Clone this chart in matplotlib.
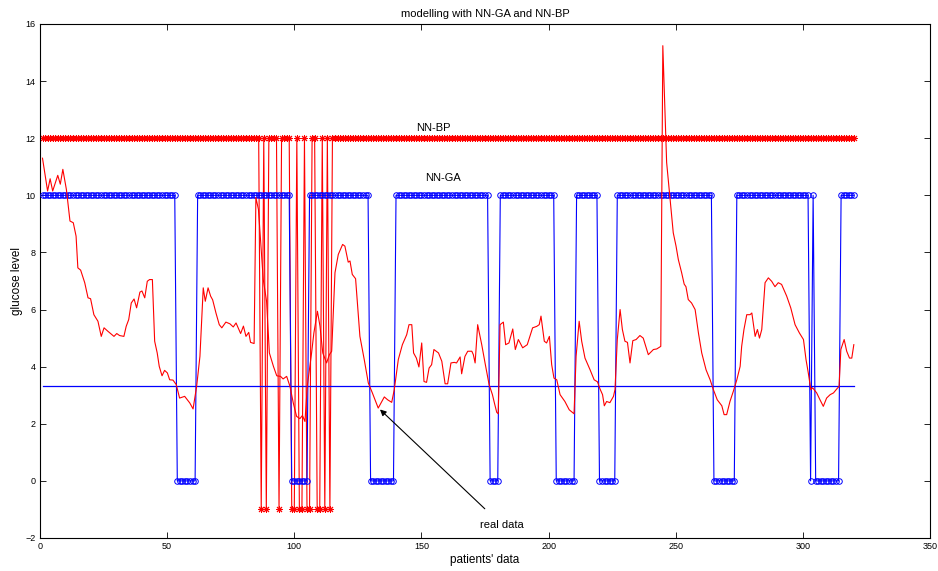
import numpy as np
import matplotlib
matplotlib.use("Agg")
import matplotlib.pyplot as plt

plt.rcParams['font.family'] = ['Liberation Sans', 'DejaVu Sans']

# ---------------- data ----------------
n_points = 320
threshold = 3.33

# NN-GA output: 10 everywhere except these index ranges (inclusive) where it is 0
ga_high = 10
ga_low = 0
ga_zero_ranges = [(54, 61), (99, 105), (130, 139), (177, 180), (203, 210),
                  (220, 226), (265, 273), (303, 303), (305, 314)]

# NN-BP output: 12 everywhere except these indices where it is -1
bp_high = 12
bp_low = -1
bp_low_idx = [87, 89, 94, 99, 100, 102, 103, 105, 106, 109, 110, 112, 114]

# real data (vertices)
real_x = [1, 3, 4, 5, 7, 8, 9, 10.4, 11.8, 13.1, 14.2, 14.9, 16, 17.6, 18.9, 19.9,
          21.2, 22.8, 24.1, 25.2, 26.7, 29.1, 30.2, 31.3, 33, 33.9, 34.9, 35.9, 37,
          38, 39.3, 40.1, 41.2, 42.2, 43.1, 44.2, 45.1, 46.1, 46.9, 48, 49, 50.1, 51,
          52.3, 53.6, 54.9, 56.9, 58.9, 60.2, 61.6, 62.9, 64.2, 65, 66.1, 67.1, 67.9,
          69.2, 70.5, 71.5, 73.1, 74.7, 76, 77.1, 78.9, 80, 81, 82.1, 82.8, 84.2, 84.9,
          85.9, 87.8, 89.1, 90.2, 91.8, 93.1, 94.6, 95.6, 97, 98.3, 99.6, 100.9, 102.2,
          103.2, 104.2, 105.1, 106.8, 107.7, 109.1, 110.1, 111.2, 112.7, 113.8, 114.7,
          116, 117.3, 119, 119.9, 121.2, 121.9, 122.8, 124.1, 125.8, 127.5, 129.1,
          130.7, 133, 135.4, 136.7, 138.3, 139.3, 140.9, 142.5, 144.2, 145.1, 146.2,
          146.9, 148, 149, 150.1, 151, 152, 153, 154, 154.9, 156.7, 158, 159.3, 160.3,
          161.6, 162.9, 163.8, 165.2, 165.8, 167.1, 168.2, 169.8, 170.4, 171.1, 172.1,
          173.7, 175, 176.6, 177.9, 178.7, 179.6, 180.2, 180.9, 182.2, 183.1, 184.4,
          185.9, 186.9, 188.1, 189.8, 191.6, 193.7, 195.3, 196.3, 197, 198.3, 199.2,
          200.3, 201.2, 202.1, 203.2, 204.5, 206.4, 208.1, 210, 210.8, 212, 213, 214.3,
          216.3, 217.9, 219.2, 220.2, 221.2, 221.9, 222.8, 224.1, 225.5, 226.1, 227,
          228.1, 229, 230, 231, 232, 233.1, 234.4, 235.9, 237.2, 239.2, 241.2, 242.5,
          244.1, 244.9, 246.4, 247.5, 248.4, 249, 250.1, 251, 252.3, 253.3, 254, 254.9,
          256.2, 257.6, 258.9, 260.2, 261.9, 263.5, 264.8, 266.3, 268.1, 269, 270,
          271.3, 272.6, 274, 275.3, 275.9, 276.8, 277.9, 279.2, 279.9, 281.2, 282.1,
          282.9, 283.8, 285.1, 286.4, 287.7, 289, 290.3, 291.6, 293.6, 295.2, 296.9,
          298.6, 300.2, 301.2, 302.1, 303.1, 303.8, 305.4, 306.7, 308, 309.3, 310.7,
          312, 313.3, 314.2, 314.9, 316.2, 317.2, 318.3, 319.2, 320]
real_y = [11.3, 10.15, 10.58, 10.15, 10.7, 10.39, 10.91, 10.2, 9.1, 9.04, 8.57, 7.46,
          7.38, 6.94, 6.41, 6.38, 5.82, 5.59, 5.06, 5.36, 5.24, 5.06, 5.16, 5.09, 5.06,
          5.41, 5.65, 6.23, 6.37, 6.06, 6.61, 6.65, 6.41, 6.99, 7.05, 7.05, 4.89, 4.48,
          4.01, 3.68, 3.87, 3.78, 3.54, 3.53, 3.37, 2.9, 2.96, 2.73, 2.52, 3.31, 4.36,
          6.76, 6.29, 6.76, 6.47, 6.34, 5.88, 5.47, 5.36, 5.56, 5.5, 5.39, 5.53, 5.16,
          5.42, 5.06, 5.2, 4.85, 4.81, 9.92, 9.51, 7.05, 6.29, 4.48, 4.01, 3.68, 3.66,
          3.57, 3.66, 3.31, 2.73, 2.26, 2.18, 2.29, 2.08, 3.31, 4.48, 5.18, 5.94, 5.42,
          4.48, 4.13, 4.42, 4.54, 7.29, 7.93, 8.28, 8.22, 7.66, 7.7, 7.23, 7.08, 5.06,
          4.25, 3.43, 3.08, 2.55, 2.94, 2.84, 2.75, 3.19, 4.25, 4.77, 5.12, 5.47, 5.47,
          4.48, 4.3, 3.99, 4.83, 3.48, 3.45, 3.95, 4.07, 4.6, 4.48, 4.19, 3.4, 3.4,
          4.13, 4.15, 4.13, 4.34, 3.75, 4.36, 4.54, 4.54, 4.42, 4.13, 5.47, 4.77, 4.13,
          3.37, 3.02, 2.72, 2.4, 2.35, 5.47, 5.56, 4.77, 4.83, 5.32, 4.6, 4.95, 4.66,
          4.77, 5.36, 5.41, 5.47, 5.77, 4.89, 4.83, 5.06, 4.07, 3.6, 3.54, 3.02, 2.78,
          2.49, 2.35, 4.36, 5.59, 4.89, 4.3, 3.89, 3.54, 3.47, 3.22, 3.02, 2.63, 2.78,
          2.74, 2.96, 3.2, 4.95, 6.0, 5.3, 4.89, 4.85, 4.13, 4.91, 4.95, 5.09, 5.0,
          4.42, 4.6, 4.62, 4.71, 15.24, 11.15, 10.1, 9.27, 8.69, 8.22, 7.75, 7.29, 6.89,
          6.8, 6.35, 6.23, 6.0, 5.18, 4.48, 3.89, 3.54, 3.19, 2.84, 2.63, 2.32, 2.32,
          2.78, 3.13, 3.54, 4.01, 4.71, 5.3, 5.82, 5.82, 5.88, 5.06, 5.3, 5.0, 5.3,
          6.94, 7.11, 6.99, 6.8, 6.94, 6.88, 6.47, 6.06, 5.47, 5.18, 4.95, 4.25, 3.78,
          3.19, 3.26, 3.08, 2.84, 2.61, 2.9, 3.02, 3.08, 3.22, 3.31, 4.6, 4.95, 4.54,
          4.3, 4.3, 4.77]

x_ticks = [0, 50, 100, 150, 200, 250, 300, 350]
y_ticks = [-2, 0, 2, 4, 6, 8, 10, 12, 14, 16]

# ---------------- build series ----------------
idx = np.arange(1, n_points + 1)
ga = np.full(n_points, ga_high, dtype=float)
for a, b in ga_zero_ranges:
    ga[(idx >= a) & (idx <= b)] = ga_low
bp = np.full(n_points, bp_high, dtype=float)
for i in bp_low_idx:
    bp[idx == i] = bp_low

# ---------------- plot ----------------
fig = plt.figure(figsize=(9.38, 5.71), dpi=100)
ax = fig.add_axes([0.0426, 0.0578, 0.949, 0.9002])

red = '#ff0000'
blue = '#0000ff'

ax.plot(idx, bp, color=red, lw=0.8, marker=(8, 2, 0), ms=5, mew=0.7, zorder=2)
ax.plot(idx, ga, color=blue, lw=0.8, marker='o', ms=4, mfc='none', mew=0.7, zorder=3)
ax.plot([1, n_points], [threshold, threshold], color=blue, lw=0.9, zorder=3)
ax.plot(real_x, real_y, color=red, lw=0.8, zorder=4)

ax.set_xlim(0, 350)
ax.set_ylim(-2, 16)
ax.set_xticks(x_ticks)
ax.set_yticks(y_ticks)
ax.tick_params(direction='in', length=4, width=0.6, top=True, right=True,
               labelsize=6.5, pad=3)
for s in ax.spines.values():
    s.set_linewidth(0.8)

ax.set_title('modelling with NN-GA and NN-BP', fontsize=8, pad=5)
ax.set_xlabel("patients' data", fontsize=8.5, labelpad=2)
ax.set_ylabel('glucose level', fontsize=8.5, labelpad=2)

ax.text(154.5, 12.35, 'NN-BP', fontsize=8, ha='center', va='center', zorder=6,
        bbox=dict(facecolor='white', edgecolor='none', pad=1.0))
ax.text(158.5, 10.6, 'NN-GA', fontsize=8, ha='center', va='center', zorder=6)
ax.annotate('real data', xy=(133.7, 2.5), xytext=(181.7, -1.55), fontsize=8,
            ha='center', va='center', zorder=6,
            arrowprops=dict(arrowstyle='-|>', color='black', lw=0.8,
                            shrinkA=9, shrinkB=0, mutation_scale=9))

fig.savefig('out.png', dpi=100)
